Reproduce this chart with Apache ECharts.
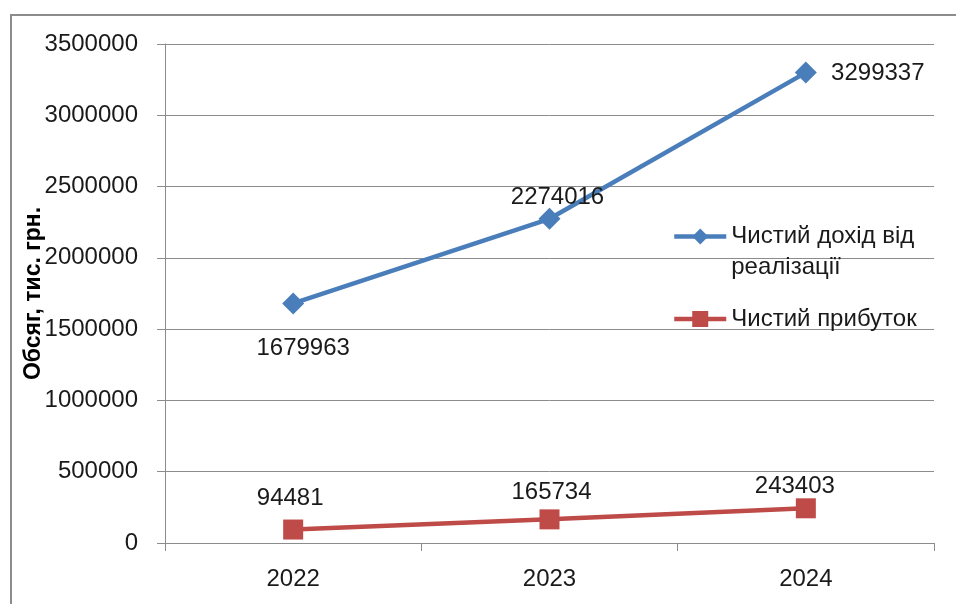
<!DOCTYPE html>
<html>
<head>
<meta charset="utf-8">
<script src="https://cdn.jsdelivr.net/npm/echarts@6/dist/echarts.min.js"></script>
<style>
  html, body { margin: 0; padding: 0; background: #fff; }
  #chart { width: 956px; height: 604px; }
</style>
</head>
<body>
<div id="chart"></div>
<script>
// Years on the category axis
const years = ['2022', '2023', '2024'];
// Net revenue from sales, thousand UAH
const revenue = [1679963, 2274016, 3299337];
// Net profit, thousand UAH
const profit = [94481, 165734, 243403];
// Value axis ticks
const yTicks = [0, 500000, 1000000, 1500000, 2000000, 2500000, 3000000, 3500000];

const FONT = 'Liberation Sans';
const FS = 24;
const BLUE = '#4a7ebb';
const RED = '#be4b48';

// per-point label offsets for each series
const revenueLabelOffsets = [[10, 45], [8, -21], [72, 1]];
const profitLabelOffsets = [[-3, -31], [2, -27], [-11, -22]];

const chart = echarts.init(document.getElementById('chart'), null, { renderer: 'canvas' });

function withLabels(values, offsets) {
  return values.map((v, i) => ({
    value: v,
    label: { offset: offsets[i] }
  }));
}

const labelStyle = {
  show: true,
  position: 'inside',
  color: '#1a1a1a',
  fontFamily: FONT,
  fontSize: FS
};

const legendText = { fontFamily: FONT, fontSize: FS, color: '#1a1a1a', lineHeight: 31 };

chart.setOption({
  animation: false,
  backgroundColor: '#fff',
  textStyle: { fontFamily: FONT },
  graphic: [{
    type: 'rect',
    shape: { x: 11, y: 15, width: 1000, height: 700 },
    style: { fill: 'none', stroke: '#8c8c8c', lineWidth: 2 },
    silent: true
  }],
  grid: { left: 165, top: 44, right: 22, bottom: 61 },
  legend: [{
    data: ['Чистий дохід від реалізації'],
    left: 672,
    top: 190,
    padding: 0,
    orient: 'vertical',
    itemWidth: 52,
    itemHeight: 20,
    lineStyle: { width: 4.5 },
    // blank first row keeps the icon level with the first text row
    formatter: () => '{e| }\n{t|Чистий дохід від}\n{t|реалізації}',
    textStyle: {
      ...legendText,
      rich: { e: { ...legendText }, t: { ...legendText } }
    },
    itemGap: 0
  }, {
    data: ['Чистий прибуток'],
    left: 672,
    top: 307,
    padding: 0,
    itemWidth: 52,
    itemHeight: 20,
    lineStyle: { width: 4.5 },
    textStyle: { fontFamily: FONT, fontSize: FS, color: '#1a1a1a' }
  }],
  xAxis: {
    type: 'category',
    data: years,
    boundaryGap: true,
    axisLine: { lineStyle: { color: '#8c8c8c', width: 1 } },
    axisTick: { show: true, length: 8, inside: false, lineStyle: { color: '#8c8c8c' } },
    axisLabel: { color: '#1a1a1a', fontFamily: FONT, fontSize: FS, margin: 24 }
  },
  yAxis: {
    type: 'value',
    min: yTicks[0],
    max: yTicks[yTicks.length - 1],
    interval: yTicks[1] - yTicks[0],
    name: 'Обсяг, тис. грн.',
    nameLocation: 'middle',
    nameRotate: 90,
    nameGap: 120,
    nameMoveOverlap: false,
    nameTextStyle: { fontFamily: FONT, fontSize: 23, fontWeight: 'bold', color: '#000' },
    axisLine: { show: true, lineStyle: { color: '#8c8c8c', width: 1 } },
    axisTick: { show: true, length: 8, lineStyle: { color: '#8c8c8c' } },
    axisLabel: {
      color: '#1a1a1a', fontFamily: FONT, fontSize: FS, margin: 27,
      formatter: v => String(v)
    },
    splitLine: { show: true, lineStyle: { color: '#8c8c8c', width: 1 } }
  },
  series: [{
    name: 'Чистий дохід від реалізації',
    type: 'line',
    data: withLabels(revenue, revenueLabelOffsets),
    symbol: 'diamond',
    symbolSize: 22,
    itemStyle: { color: BLUE },
    lineStyle: { color: BLUE, width: 4.5 },
    label: labelStyle,
    z: 3
  }, {
    name: 'Чистий прибуток',
    type: 'line',
    data: withLabels(profit, profitLabelOffsets),
    symbol: 'rect',
    symbolSize: 20,
    itemStyle: { color: RED },
    lineStyle: { color: RED, width: 4.5 },
    label: labelStyle,
    z: 3
  }]
});
</script>
</body>
</html>
